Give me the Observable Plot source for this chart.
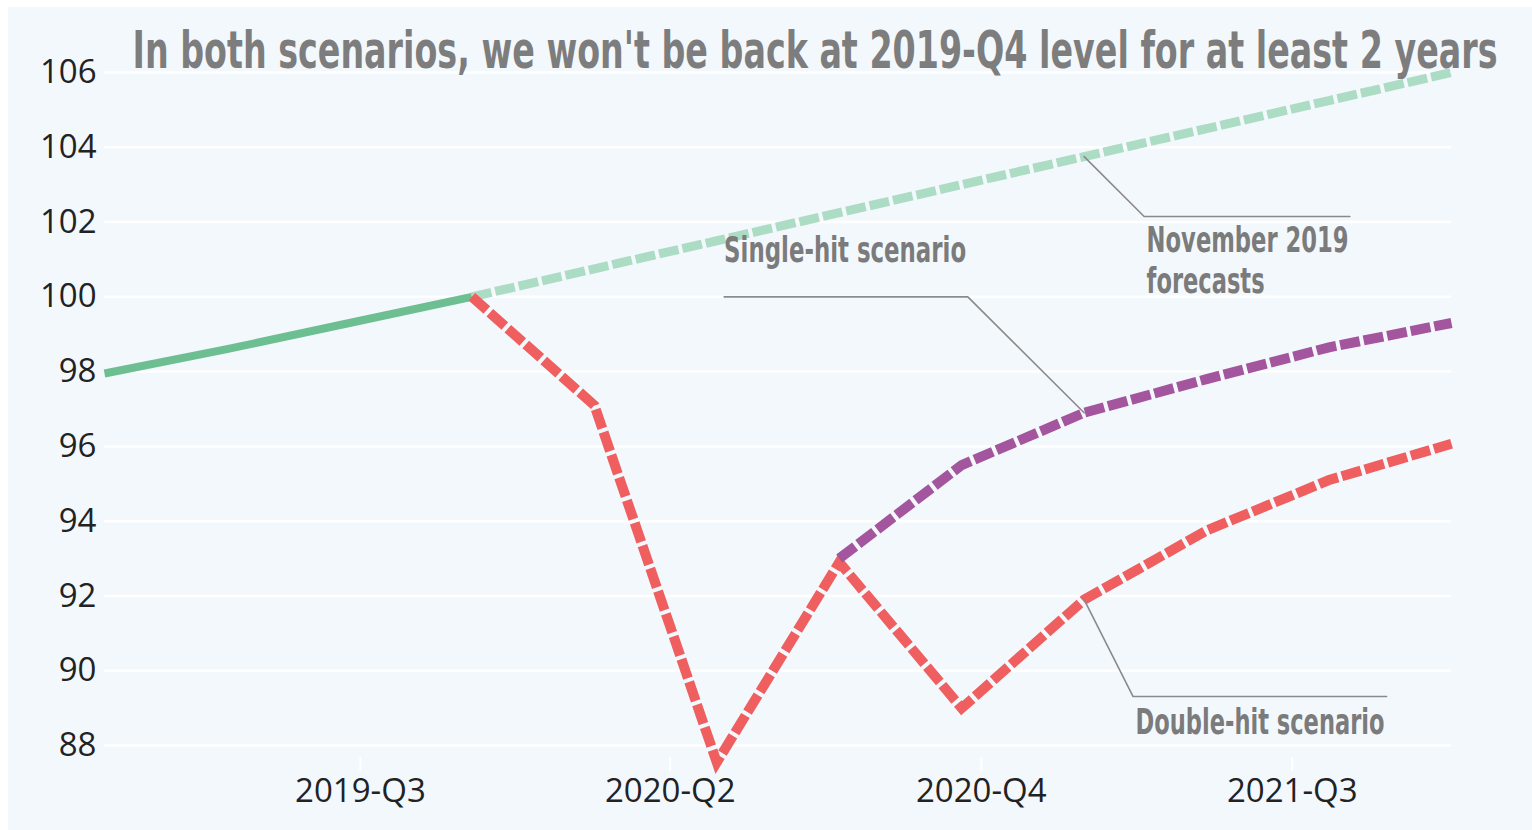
<!DOCTYPE html>
<html><head><meta charset="utf-8">
<script src="https://cdn.jsdelivr.net/npm/d3@7"></script>
<script src="https://cdn.jsdelivr.net/npm/@observablehq/plot@0.6"></script>
<style>
html,body{margin:0;padding:0;background:#fff;}
#chart svg{display:block;box-shadow:inset 8px 7px 0 0 #fff;}
</style></head><body><div id="chart"></div>
<script>
// ---- data ----
const quarters = ["2019-Q1","2019-Q2","2019-Q3","2019-Q4","2020-Q1","2020-Q2","2020-Q3","2020-Q4","2021-Q1","2021-Q2","2021-Q3","2021-Q4"];
const historyIdx = [0, 1, 2, 3];
const historyVals = [97.95, 98.6, 99.3, 100];
const forecastIdx = [3, 4, 5, 6, 7, 8, 9, 10, 11];
const forecastVals = [100, 100.75, 101.5, 102.25, 103, 103.75, 104.5, 105.25, 106];
const doubleIdx = [3, 4, 5, 6, 7, 8, 9, 10, 11];
const doubleVals = [100, 97.1, 87.55, 92.9, 89.0, 91.9, 93.75, 95.1, 96.07];
const singleIdx = [6, 7, 8, 9, 10, 11];
const singleVals = [93.0, 95.5, 96.9, 97.8, 98.65, 99.3];
const yTicks = [88, 90, 92, 94, 96, 98, 100, 102, 104, 106];
const xTickPos = [2.09, 4.62, 7.16, 9.70];
const xTickLabels = ["2019-Q3", "2020-Q2", "2020-Q4", "2021-Q3"];
const title = "In both scenarios, we won't be back at 2019-Q4 level for at least 2 years";
// annotation texts (label, x index, y value at baseline)
const annoTexts = ["November 2019", "forecasts", "Single-hit scenario", "Double-hit scenario"];
const annoX = [8.51, 8.51, 5.06, 8.42];
const annoY = [101.19, 100.09, 100.92, 88.32];
// leader lines
const novLeaderX = [8, 8.49, 10.17];
const novLeaderY = [103.75, 102.15, 102.15];
const singleLeaderX = [5.06, 7.05, 8];
const singleLeaderY = [100.0, 100.0, 96.9];
const doubleLeaderX = [8, 8.40, 10.47];
const doubleLeaderY = [91.9, 89.31, 89.31];

// ---- styles ----
const textWidths = {"November 2019": 202, "forecasts": 118, "Single-hit scenario": 242, "Double-hit scenario": 249};
textWidths[title] = 1365;
const condensed = "'Liberation Sans Narrow', 'DejaVu Sans Condensed', 'Roboto Condensed', sans-serif";
const DASH = "20,4";
const titleSize = 37, titleStretch = 51 / 37;

const rows = (xs, ys) => xs.map((x, i) => ({x, y: ys[i], q: quarters[x]}));
const annoRows = annoTexts.map((t, i) => ({t, x: annoX[i], y: annoY[i]}));
const leader = (xs, ys) => Plot.line(rows(xs, ys), {x: "x", y: "y", stroke: "#8a8a8a", strokeWidth: 1.6});
const dashed = (xs, ys, color, w) => Plot.line(rows(xs, ys), {x: "x", y: "y", stroke: color, strokeWidth: w, strokeDasharray: DASH, strokeLinecap: "butt", strokeLinejoin: "miter", strokeMiterlimit: 10});

const chart = Plot.plot({
  width: 1532, height: 830,
  marginLeft: 104, marginRight: 81, marginTop: 34.6, marginBottom: 73,
  x: {domain: [0, 11]},
  y: {domain: [87.68, 107]},
  style: {background: "#f3f8fd", fontFamily: "'Open Sans', sans-serif", fontSize: "33px", color: "#222"},
  marks: [
    Plot.ruleY(yTicks, {stroke: "#fff", strokeWidth: 2.5}),
    dashed(forecastIdx, forecastVals, "#acdcc4", 9),
    Plot.line(rows(historyIdx, historyVals), {x: "x", y: "y", stroke: "#6dbf91", strokeWidth: 8, strokeLinecap: "butt"}),
    dashed(doubleIdx, doubleVals, "#ef5f5f", 10),
    dashed(singleIdx, singleVals, "#a3559e", 10),
    leader(novLeaderX, novLeaderY),
    leader(singleLeaderX, singleLeaderY),
    leader(doubleLeaderX, doubleLeaderY),
    Plot.text(annoRows, {x: "x", y: "y", text: "t", textAnchor: "start", lineAnchor: "bottom", fontSize: 36, fontWeight: "bold", fontFamily: condensed, fill: "#7b7b7b"}),
    Plot.axisY({ticks: yTicks, tickSize: 0, tickPadding: 8, fill: "#222", label: null}),
    Plot.axisX({ticks: xTickPos, tickFormat: d => xTickLabels[xTickPos.indexOf(d)], tickSize: 14, tickPadding: 7, stroke: "#fff", strokeWidth: 2, fill: "#222", label: null}),
    Plot.text([title], {frameAnchor: "top-left", text: d => d, dx: 28, dy: 32.4, textAnchor: "start", lineAnchor: "bottom", fontSize: titleSize, fontWeight: "bold", fontFamily: condensed, fill: "#7d7d7d"})
  ]
});
document.getElementById("chart").appendChild(chart);
d3.select(chart).selectAll("text").each(function() {
  const txt = this.textContent;
  const w = textWidths[txt];
  if (w) { this.setAttribute("textLength", w); this.setAttribute("lengthAdjust", "spacingAndGlyphs"); }
  if (txt === title) {
    try {
      const p = this.getStartPositionOfChar(0);
      const old = this.getAttribute("transform") || "";
      this.setAttribute("transform", `${old} translate(0,${p.y}) scale(1,${titleStretch}) translate(0,${-p.y})`);
    } catch (e) {}
  }
});
</script></body></html>
